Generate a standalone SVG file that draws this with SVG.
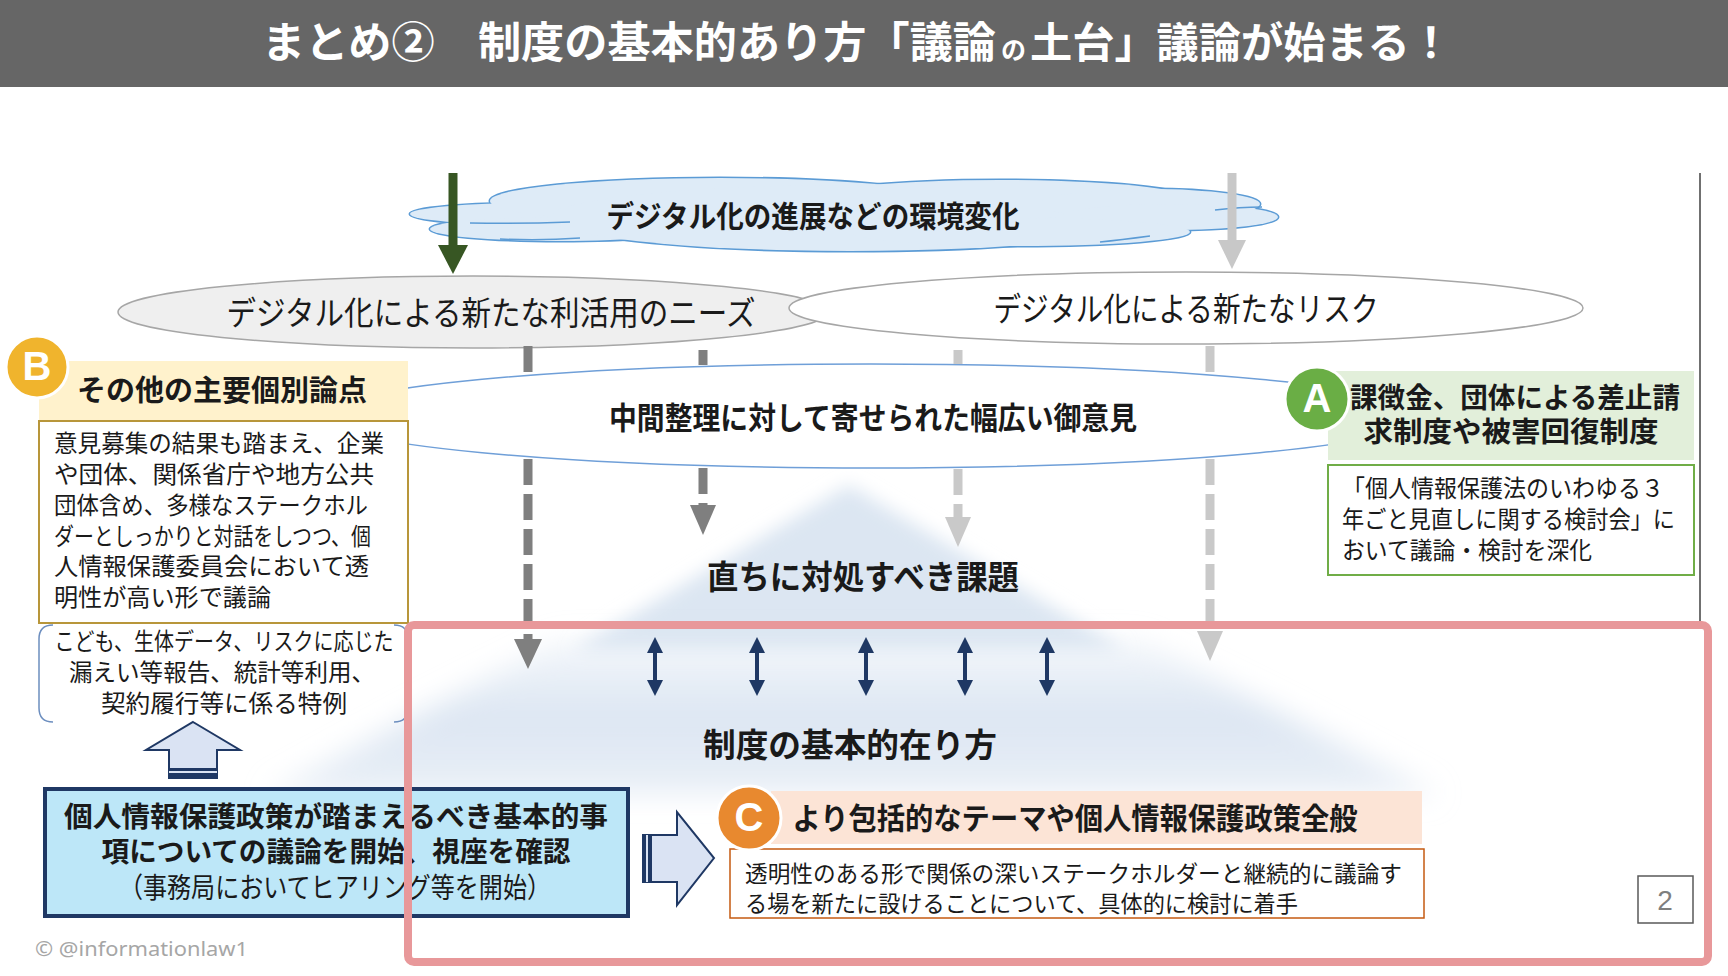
<svg xmlns="http://www.w3.org/2000/svg" width="1728" height="976" viewBox="0 0 1728 976">
<defs>
<style>
text{font-family:"Liberation Sans","Noto Sans CJK JP","Noto Sans CJK SC",sans-serif;dominant-baseline:central;fill:#1a1a1a}
.b{font-weight:700}
.mid{text-anchor:middle}
.body{font-size:24px}
.tt{fill:#fff;font-weight:700}
.cl{fill:#5B9BD5;stroke:#5B9BD5;stroke-width:3}
.cf{fill:#DEEBF7}
.dashd{stroke:#7F7F7F;stroke-width:9;stroke-dasharray:26 9;fill:none}
.dashl{stroke:#C9C9C9;stroke-width:9;stroke-dasharray:26 9;fill:none}
.dbl{stroke:#1F3864;stroke-width:4}
.let{font-family:"Liberation Sans","Noto Sans",sans-serif;font-weight:700;fill:#fff;font-size:40px;text-anchor:middle}
</style>
<filter id="blur" x="-20%" y="-20%" width="140%" height="140%"><feGaussianBlur stdDeviation="9"/></filter>
<filter id="blur2" x="-20%" y="-20%" width="140%" height="140%"><feGaussianBlur stdDeviation="14"/></filter>
<linearGradient id="lowg" x1="0" y1="0" x2="0" y2="1">
<stop offset="0" stop-color="#DCE6F2" stop-opacity="0.3"/>
<stop offset="0.5" stop-color="#DCE6F2"/>
<stop offset="1" stop-color="#DCE6F2" stop-opacity="0.6"/>
</linearGradient>
</defs>
<rect width="1728" height="976" fill="#fff"/>

<g id="title">
<rect x="0" y="0" width="1728" height="87" fill="#666666"/>
<text x="262" y="43" font-size="43" class="tt" textLength="734" lengthAdjust="spacingAndGlyphs">まとめ②　制度の基本的あり方「議論</text>
<text x="1001" y="50" font-size="25" class="tt">の</text>
<text x="1030" y="43" font-size="42" class="tt" textLength="422" lengthAdjust="spacingAndGlyphs">土台」議論が始まる！</text>
</g>

<line x1="1700" y1="173" x2="1700" y2="621" stroke="#404040" stroke-width="1.5"/>

<g id="mountains">
<polygon points="849,485 1125,650 573,650" fill="#DCE6F2" filter="url(#blur)"/>
<polygon points="560,640 1140,640 1440,795 265,795" fill="url(#lowg)" filter="url(#blur2)"/>
<text x="863" y="577" font-size="33" class="b mid" textLength="312" lengthAdjust="spacingAndGlyphs">直ちに対処すべき課題</text>
<text x="850" y="745" font-size="33" class="b mid" textLength="294" lengthAdjust="spacingAndGlyphs">制度の基本的在り方</text>
</g>

<g id="cloud">
<g class="cl">
<ellipse cx="535" cy="214" rx="125" ry="11"/>
<ellipse cx="560" cy="229" rx="130" ry="12"/>
<ellipse cx="720" cy="201" rx="230" ry="23"/>
<ellipse cx="850" cy="218" rx="300" ry="33"/>
<ellipse cx="1000" cy="199" rx="190" ry="19"/>
<ellipse cx="1150" cy="204" rx="110" ry="15"/>
<ellipse cx="1170" cy="217" rx="108" ry="13"/>
<ellipse cx="1020" cy="232" rx="170" ry="14"/>
</g>
<g class="cf">
<ellipse cx="535" cy="214" rx="125" ry="11"/>
<ellipse cx="560" cy="229" rx="130" ry="12"/>
<ellipse cx="720" cy="201" rx="230" ry="23"/>
<ellipse cx="850" cy="218" rx="300" ry="33"/>
<ellipse cx="1000" cy="199" rx="190" ry="19"/>
<ellipse cx="1150" cy="204" rx="110" ry="15"/>
<ellipse cx="1170" cy="217" rx="108" ry="13"/>
<ellipse cx="1020" cy="232" rx="170" ry="14"/>
</g>
<path d="M470 223 Q520 224 570 222 M500 239 Q540 241 580 238 M1215 210 Q1240 207 1262 207 M1100 242 Q1120 240 1150 236" fill="none" stroke="#5B9BD5" stroke-width="1.5"/>
<text x="813" y="216" font-size="30" class="b mid" textLength="413" lengthAdjust="spacingAndGlyphs">デジタル化の進展などの環境変化</text>
</g>

<g id="needs">
<ellipse cx="473" cy="312" rx="355" ry="36" fill="#EFEFEF" stroke="#A6A6A6" stroke-width="1.5"/>
<text x="491" y="313" font-size="33" class="mid" textLength="529" lengthAdjust="spacingAndGlyphs">デジタル化による新たな利活用のニーズ</text>
</g>
<g id="risk">
<ellipse cx="1186" cy="308" rx="397" ry="36" fill="#fff" stroke="#A6A6A6" stroke-width="1.5"/>
<text x="1186" y="309" font-size="33" class="mid" textLength="385" lengthAdjust="spacingAndGlyphs">デジタル化による新たなリスク</text>
</g>

<g id="opinions">
<ellipse cx="871" cy="416" rx="550" ry="52" fill="#fff" stroke="#6F9FD8" stroke-width="1.5"/>
<text x="873" y="418" font-size="31" class="b mid" textLength="528" lengthAdjust="spacingAndGlyphs">中間整理に対して寄せられた幅広い御意見</text>
</g>

<g id="nodeB">
<rect x="39" y="361" width="369" height="60" fill="#FFF2CC"/>
<text x="77" y="391" font-size="29" class="b" textLength="290" lengthAdjust="spacingAndGlyphs">その他の主要個別論点</text>
<rect x="39" y="421" width="369" height="202" fill="#fff" stroke="#B8963A" stroke-width="2"/>
<text x="54" y="443" class="body" textLength="330" lengthAdjust="spacingAndGlyphs">意見募集の結果も踏まえ、企業</text>
<text x="54" y="474" class="body" textLength="320" lengthAdjust="spacingAndGlyphs">や団体、関係省庁や地方公共</text>
<text x="54" y="505" class="body" textLength="314" lengthAdjust="spacingAndGlyphs">団体含め、多様なステークホル</text>
<text x="54" y="536" class="body" textLength="317" lengthAdjust="spacingAndGlyphs">ダーとしっかりと対話をしつつ、個</text>
<text x="54" y="566" class="body" textLength="315" lengthAdjust="spacingAndGlyphs">人情報保護委員会において透</text>
<text x="54" y="597" class="body" textLength="217" lengthAdjust="spacingAndGlyphs">明性が高い形で議論</text>
<circle cx="37" cy="367" r="31" fill="#F0B42D" stroke="#fff" stroke-width="3"/>
<text x="37" y="366" class="let">B</text>
</g>

<g id="special">
<path d="M53 625 Q39 625 39 639 L39 708 Q39 722 53 722 M394 625 Q408 625 408 639 L408 708 Q408 722 394 722" fill="none" stroke="#6C8EBF" stroke-width="1.5"/>
<text x="224" y="641" class="body mid" textLength="339" lengthAdjust="spacingAndGlyphs">こども、生体データ、リスクに応じた</text>
<text x="222" y="672" class="body mid" textLength="306" lengthAdjust="spacingAndGlyphs">漏えい等報告、統計等利用、</text>
<text x="224" y="703" class="body mid" textLength="246" lengthAdjust="spacingAndGlyphs">契約履行等に係る特例</text>
</g>

<g id="uparrow">
<polygon points="193,722 240,750 217,750 217,778 169,778 169,750 146,750" fill="#DAE3F3" stroke="#1F3864" stroke-width="2" stroke-linejoin="miter"/>
<rect x="169" y="768" width="48" height="10" fill="#1F3864"/>
<rect x="169" y="771" width="48" height="2" fill="#DAE3F3"/>
</g>

<g id="nodeA">
<rect x="1328" y="371" width="366" height="89" fill="#E2EFDA"/>
<text x="1515" y="398" font-size="28" class="b mid" textLength="330" lengthAdjust="spacingAndGlyphs">課徴金、団体による差止請</text>
<text x="1511" y="432" font-size="28" class="b mid" textLength="295" lengthAdjust="spacingAndGlyphs">求制度や被害回復制度</text>
<rect x="1328" y="465" width="366" height="110" fill="#fff" stroke="#70AD47" stroke-width="2"/>
<text x="1342" y="488" class="body" textLength="322" lengthAdjust="spacingAndGlyphs">「個人情報保護法のいわゆる３</text>
<text x="1342" y="519" class="body" textLength="333" lengthAdjust="spacingAndGlyphs">年ごと見直しに関する検討会」に</text>
<text x="1342" y="550" class="body" textLength="250" lengthAdjust="spacingAndGlyphs">おいて議論・検討を深化</text>
<circle cx="1317" cy="399" r="32" fill="#6AAE45" stroke="#fff" stroke-width="3"/>
<text x="1317" y="398" class="let">A</text>
</g>

<g id="start">
<rect x="45" y="789" width="583" height="127" fill="#BDE7F8" stroke="#1F3864" stroke-width="4"/>
<text x="336" y="817" font-size="28" class="b mid" textLength="544" lengthAdjust="spacingAndGlyphs">個人情報保護政策が踏まえるべき基本的事</text>
<text x="336" y="852" font-size="28" class="b mid" textLength="469" lengthAdjust="spacingAndGlyphs">項についての議論を開始、視座を確認</text>
<text x="335" y="888" font-size="28" class="mid" textLength="432" lengthAdjust="spacingAndGlyphs">（事務局においてヒアリング等を開始）</text>
</g>

<g id="rightarrow">
<polygon points="643,835 677,835 677,812 714,858 677,905 677,882 643,882" fill="#DAE3F3" stroke="#1F3864" stroke-width="2"/>
<rect x="643" y="835" width="9" height="47" fill="#1F3864"/>
<rect x="646" y="835" width="2" height="47" fill="#DAE3F3"/>
</g>

<g id="nodeC">
<rect x="771" y="791" width="651" height="53" fill="#FCE4D6"/>
<text x="1075" y="818" font-size="30" class="b mid" textLength="565" lengthAdjust="spacingAndGlyphs">より包括的なテーマや個人情報保護政策全般</text>
<rect x="730" y="849" width="694" height="69" fill="#fff" stroke="#C55A11" stroke-width="1.5"/>
<text x="745" y="874" font-size="23" textLength="657" lengthAdjust="spacingAndGlyphs">透明性のある形で関係の深いステークホルダーと継続的に議論す</text>
<text x="745" y="904" font-size="23" textLength="553" lengthAdjust="spacingAndGlyphs">る場を新たに設けることについて、具体的に検討に着手</text>
<circle cx="749" cy="818" r="32" fill="#E8892F" stroke="#fff" stroke-width="3"/>
<text x="749" y="817" class="let">C</text>
</g>

<g id="connectors">
<line x1="453" y1="173" x2="453" y2="246" stroke="#375623" stroke-width="9"/>
<polygon points="438,245 468,245 453,274" fill="#375623"/>
<line x1="1232" y1="173" x2="1232" y2="241" stroke="#C8C8C8" stroke-width="9"/>
<polygon points="1218,240 1246,240 1232,269" fill="#C8C8C8"/>
<path class="dashd" d="M528 346 V374 M528 459 V640"/>
<polygon points="514,639 542,639 528,669" fill="#7F7F7F"/>
<path class="dashd" d="M703 350 V365 M703 468 V506"/>
<polygon points="690,505 716,505 703,535" fill="#7F7F7F"/>
<path class="dashl" d="M958 350 V364 M958 469 V518"/>
<polygon points="945,517 971,517 958,547" fill="#C9C9C9"/>
<path class="dashl" d="M1210 346 V374 M1210 459 V632"/>
<polygon points="1197,631 1223,631 1210,661" fill="#C9C9C9"/>
<g class="dbl">
<line x1="655" y1="650" x2="655" y2="683"/>
<line x1="757" y1="650" x2="757" y2="683"/>
<line x1="866" y1="650" x2="866" y2="683"/>
<line x1="965" y1="650" x2="965" y2="683"/>
<line x1="1047" y1="650" x2="1047" y2="683"/>
</g>
<g fill="#1F3864">
<polygon points="647,653 663,653 655,637"/><polygon points="647,680 663,680 655,696"/>
<polygon points="749,653 765,653 757,637"/><polygon points="749,680 765,680 757,696"/>
<polygon points="858,653 874,653 866,637"/><polygon points="858,680 874,680 866,696"/>
<polygon points="957,653 973,653 965,637"/><polygon points="957,680 973,680 965,696"/>
<polygon points="1039,653 1055,653 1047,637"/><polygon points="1039,680 1055,680 1047,696"/>
</g>
</g>

<g id="highlight">
<rect x="408" y="625" width="1300" height="337" rx="6" fill="none" stroke="#E8989A" stroke-width="8"/>
</g>

<g id="pagenum">
<rect x="1638" y="876" width="55" height="47" fill="#fff" stroke="#595959" stroke-width="1.5"/>
<text x="1665" y="900" font-size="28" class="mid" style="fill:#7F7F7F;font-family:'Liberation Sans',sans-serif">2</text>
</g>

<text x="35" y="948" font-size="20" style="fill:#A6A6A6;font-family:'Noto Sans','Liberation Sans',sans-serif" textLength="213" lengthAdjust="spacingAndGlyphs">© @informationlaw1</text>
</svg>
